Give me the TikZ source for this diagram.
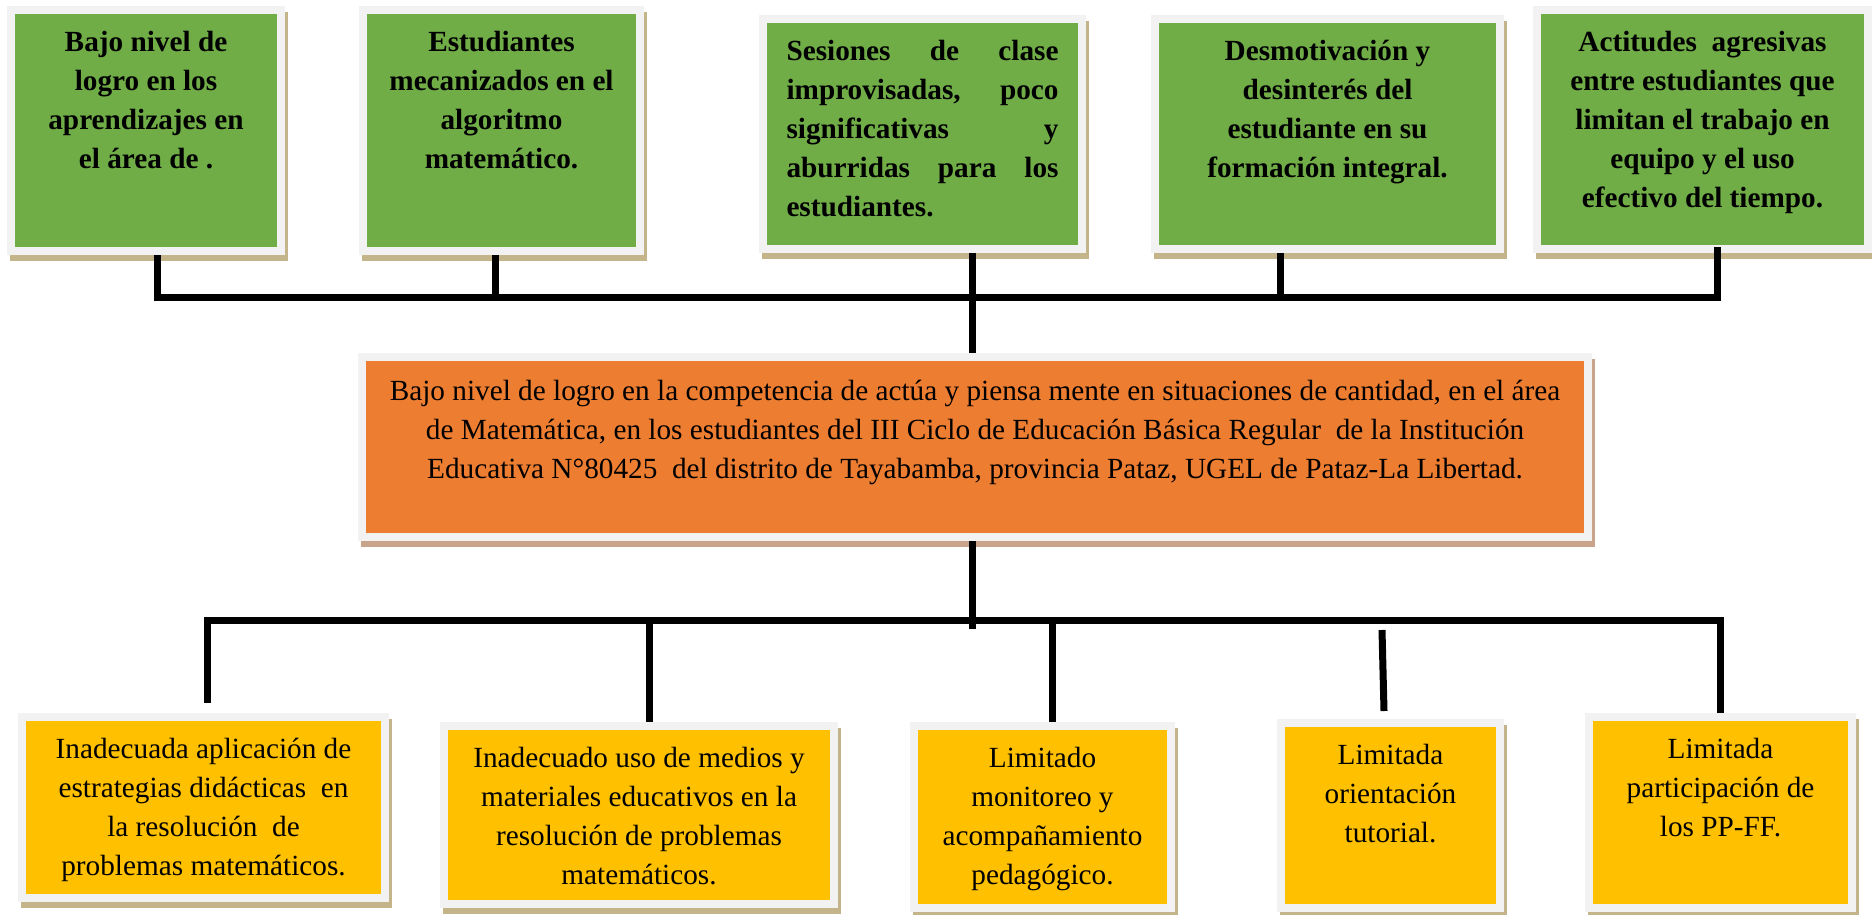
\documentclass[tikz,border=0pt]{standalone}
\usepackage{fontspec}
\setmainfont{Liberation Serif}
\usetikzlibrary{fit,calc}
\definecolor{boxgreen}{HTML}{70AD47}
\definecolor{boxorange}{HTML}{ED7D31}
\definecolor{boxyellow}{HTML}{FFC000}
\definecolor{framegray}{HTML}{F2F2F2}
\definecolor{shadowtan}{HTML}{C4B48A}
\definecolor{shadowbrown}{HTML}{C8A48C}
\newcommand\panel[7]{%
  \fill[#7] ({#2+3},{#3+6}) rectangle ({#4+3},{#5+6});
  \node[fill=framegray, inner sep=0pt, outer sep=0pt, fit={(#2,#3)(#4,#5)}] (#1) {};
  \fill[#6] ({#2+8},{#3+8}) rectangle ({#4-8},{#5-8});
}
\tikzset{
  conn/.style={line width=2.8pt, black, line join=miter},
  boldtxt/.style={inner sep=0pt, align=center, anchor=north, font=\fontsize{11.7}{15.6}\selectfont\bfseries},
  regtxt/.style={inner sep=0pt, align=center, anchor=north, font=\fontsize{11.7}{15.6}\selectfont},
}
\begin{document}
\begin{tikzpicture}[x=0.4pt,y=-0.4pt]
\useasboundingbox (0,0) rectangle (1872,914);
% top boxes
\panel{b1}{7}{6}{285}{255}{boxgreen}{shadowtan}
\panel{b2}{359}{6}{644}{255}{boxgreen}{shadowtan}
\panel{b3}{759}{15}{1086}{253}{boxgreen}{shadowtan}
\panel{b4}{1151}{15}{1504}{253}{boxgreen}{shadowtan}
\panel{b5}{1533}{6}{1872}{253}{boxgreen}{shadowtan}
% central box
\panel{c}{358}{353}{1592}{541}{boxorange}{shadowbrown}
% bottom boxes
\panel{l1}{18}{713}{389}{902}{boxyellow}{shadowtan}
\panel{l2}{440}{722}{838}{908}{boxyellow}{shadowtan}
\panel{l3}{910}{722}{1175}{912}{boxyellow}{shadowtan}
\panel{l4}{1277}{719}{1504}{912}{boxyellow}{shadowtan}
\panel{l5}{1585}{713}{1856}{912}{boxyellow}{shadowtan}

% texts
\node[boldtxt] (b1t) at ($(b1.north)+(0,18)$) {\strut Bajo nivel de\\logro en los\\aprendizajes en\\el área de .};
\node[boldtxt] (b2t) at ($(b2.north)+(0,18)$) {\strut Estudiantes\\mecanizados en el\\algoritmo\\matemático.};
\node[boldtxt, align=left, text width=108.8pt] (b3t) at ($(b3.north)+(0,18)$) {\strut Sesiones\hfill de\hfill clase\\improvisadas,\hfill poco\\significativas\hfill y\\aburridas\hfill para\hfill los\\estudiantes.};
\node[boldtxt] (b4t) at ($(b4.north)+(0,18)$) {\strut Desmotivación y\\desinterés del\\estudiante en su\\formación integral.};
\node[boldtxt] (b5t) at ($(b5.north)+(0,18)$) {\strut Actitudes\hspace{0.25em} agresivas\\entre estudiantes que\\limitan el trabajo en\\equipo y el uso\\efectivo del tiempo.};
\node[regtxt] (ct) at ($(c.north)+(0,20)$) {\strut Bajo nivel de logro en la competencia de actúa y piensa mente en situaciones de cantidad, en el área\\de Matemática, en los estudiantes del III Ciclo de Educación Básica Regular\ \ de la Institución\\Educativa N°80425\ \ del distrito de Tayabamba, provincia Pataz, UGEL de Pataz-La Libertad.};
\node[regtxt] (l1t) at ($(l1.north)+(0,18)$) {\strut Inadecuada aplicación de\\estrategias didácticas\ \ en\\la resolución\ \ de\\problemas matemáticos.};
\node[regtxt] (l2t) at ($(l2.north)+(0,18)$) {\strut Inadecuado uso de medios y\\materiales educativos en la\\resolución de problemas\\matemáticos.};
\node[regtxt] (l3t) at ($(l3.north)+(0,18)$) {\strut Limitado\\monitoreo y\\acompañamiento\\pedagógico.};
\node[regtxt] (l4t) at ($(l4.north)+(0,18)$) {\strut Limitada\\orientación\\tutorial.};
\node[regtxt] (l5t) at ($(l5.north)+(0,18)$) {\strut Limitada\\participación de\\los PP-FF.};

% junction coordinates
\coordinate (jt1) at (157,297);
\coordinate (jt2) at (495,297);
\coordinate (jt3) at (972,297);
\coordinate (jt4) at (1280,297);
\coordinate (jt5) at (1717,297);
\coordinate (jl1) at (207,620);
\coordinate (jl2) at (649,620);
\coordinate (jc)  at (972,620);
\coordinate (jl3) at (1052,620);
\coordinate (jl4) at (1382,630);
\coordinate (jl5) at (1720,620);

% top connectors
\draw[conn] (b1.south -| jt1) -- (jt1) -- (jt5) -- ($(jt5 |- b5.south)+(0,-6)$);
\draw[conn] (b2.south -| jt2) -- (jt2);
\draw[conn] (b3.south -| jt3) -- (jt3 |- c.north);
\draw[conn] (b4.south -| jt4) -- (jt4);
% bottom connectors
\draw[conn] (c.south -| jc) -- ($(jc)+(0,9)$);
\draw[conn] ($(jl1 |- l1.north)+(0,-10)$) -- (jl1) -- (jl5) -- (jl5 |- l5.north);
\draw[conn] (jl2) -- (jl2 |- l2.north);
\draw[conn] (jl3) -- (jl3 |- l3.north);
\draw[conn] (jl4) -- ($(jl4 |- l4.north)+(2,-8)$);
\end{tikzpicture}
\end{document}
